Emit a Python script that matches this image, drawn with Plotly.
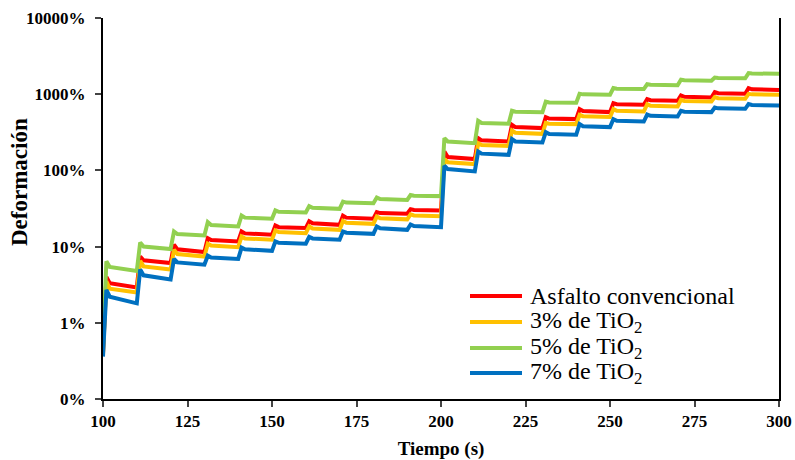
import plotly.graph_objects as go

# ---- data ----
inicio_ciclo = [100, 110, 120, 130, 140, 150, 160, 170, 180, 190,
                200, 210, 220, 230, 240, 250, 260, 270, 280, 290]
t_pico = [101, 111, 121, 131, 141, 151, 161, 171, 181, 191,
          201, 211, 221, 231, 241, 251, 261, 271, 281, 291]
t_rec = [102, 112, 122, 132, 142, 152, 162, 172, 182, 192,
         202, 212, 222, 232, 242, 252, 262, 272, 282, 292]
t_fin = [110, 120, 130, 140, 150, 160, 170, 180, 190, 200,
         210, 220, 230, 240, 250, 260, 270, 280, 290, 300]

series_names = ["Asfalto convencional", "3% de TiO<sub>2</sub>",
                "5% de TiO<sub>2</sub>", "7% de TiO<sub>2</sub>"]
series_colors = ["#FF0000", "#FFC000", "#92D050", "#0070C0"]

inicio_conv = 0.40
pico_conv = [4.0, 7.4, 10.6, 12.9, 15.8, 18.9, 21.5, 25.4, 28.4, 31.0,
             177, 265, 396, 500, 637, 764, 862, 962, 1066, 1203]
rec_conv = [3.3, 6.6, 9.2, 12.2, 14.9, 18.0, 20.2, 24.0, 27.5, 30.2,
            150, 248, 370, 480, 600, 740, 835, 925, 1030, 1160]
fin_conv = [2.9, 6.1, 8.5, 11.7, 14.3, 17.5, 19.3, 23.2, 27.0, 29.7,
            141, 240, 359, 471, 582, 726, 819, 905, 1012, 1137]

inicio_ti3 = 0.38
pico_ti3 = [3.5, 6.5, 9.1, 10.9, 13.6, 16.3, 18.4, 21.8, 24.8, 26.5,
            141, 228, 334, 420, 537, 637, 741, 845, 916, 1012]
rec_ti3 = [2.8, 5.5, 8.0, 10.3, 12.8, 15.5, 17.3, 20.6, 23.6, 25.6,
           128, 216, 312, 410, 515, 605, 705, 815, 885, 995]
fin_ti3 = [2.5, 5.0, 7.4, 9.8, 12.3, 15.0, 16.6, 19.9, 22.8, 25.0,
           121, 210, 302, 405, 501, 593, 690, 802, 871, 985]

inicio_ti5 = 0.50
pico_ti5 = [6.4, 11.3, 15.8, 21.0, 25.6, 29.8, 34.0, 39.0, 44.0, 47.5,
            265, 448, 606, 800, 1012, 1203, 1350, 1545, 1656, 1893]
rec_ti5 = [5.4, 10.0, 14.6, 19.2, 24.0, 28.6, 32.3, 37.8, 42.0, 46.6,
           240, 420, 590, 780, 995, 1180, 1330, 1520, 1635, 1870]
fin_ti5 = [4.8, 9.3, 14.0, 18.4, 23.2, 28.0, 31.3, 37.0, 41.0, 46.0,
           228, 409, 580, 770, 985, 1167, 1310, 1500, 1620, 1850]

inicio_ti7 = 0.36
pico_ti7 = [2.7, 5.0, 6.9, 7.6, 9.7, 11.7, 13.4, 15.8, 18.4, 19.5,
            115, 177, 258, 318, 405, 471, 540, 606, 669, 741]
rec_ti7 = [2.2, 4.2, 6.2, 7.2, 9.2, 11.2, 12.8, 15.2, 17.4, 18.6,
           104, 166, 240, 300, 380, 448, 520, 590, 652, 722]
fin_ti7 = [1.8, 3.7, 5.8, 6.9, 8.8, 10.9, 12.3, 14.7, 16.6, 18.0,
           97, 160, 232, 293, 370, 438, 510, 582, 643, 711]

x_ticks = [100, 125, 150, 175, 200, 225, 250, 275, 300]
y_ticks = [0.1, 1, 10, 100, 1000, 10000]
y_ticktext = ["0%", "1%", "10%", "100%", "1000%", "10000%"]

datos = [
    (inicio_conv, pico_conv, rec_conv, fin_conv),
    (inicio_ti3, pico_ti3, rec_ti3, fin_ti3),
    (inicio_ti5, pico_ti5, rec_ti5, fin_ti5),
    (inicio_ti7, pico_ti7, rec_ti7, fin_ti7),
]

FONT = "Liberation Serif"
W, H = 795, 460
ML, MR, MT, MB = 103, 16, 18, 61
PW, PH = W - ML - MR, H - MT - MB

fig = go.Figure()
for name, color, (ini, pico, rec, fin) in zip(series_names, series_colors, datos):
    xs, ys = [], []
    prev = ini
    for i, t0 in enumerate(inicio_ciclo):
        xs += [t0, t_pico[i], t_rec[i], t_fin[i]]
        ys += [prev, pico[i], rec[i], fin[i]]
        prev = fin[i]
    fig.add_trace(go.Scatter(x=xs, y=ys, mode="lines", name=name, showlegend=False,
                             line=dict(color=color, width=4)))

def px_x(X):
    return (X - ML) / PW
def px_y(Y):
    return (H - MB - Y) / PH

# ---- legend drawn as shapes + text (tight line spacing like the reference) ----
leg_x0, leg_x1, leg_tx = 470, 522, 528
leg_rows = [296, 322, 348, 373]
for name, color, ry in zip(series_names, series_colors, leg_rows):
    fig.add_shape(type="line", xref="paper", yref="paper",
                  x0=px_x(leg_x0), x1=px_x(leg_x1), y0=px_y(ry), y1=px_y(ry),
                  line=dict(color=color, width=4))
    fig.add_annotation(xref="paper", yref="paper", x=px_x(leg_tx), y=px_y(ry),
                       xanchor="left", yanchor="middle", text=name, showarrow=False,
                       font=dict(family=FONT, size=24, color="black"))

# ---- y axis title (placed like the reference, above the plot's middle) ----
fig.add_annotation(xref="paper", yref="paper", x=px_x(19), y=px_y(182),
                   xanchor="center", yanchor="middle", textangle=-90,
                   text="<b>Deformación</b>", showarrow=False,
                   font=dict(family=FONT, size=23, color="black"))

fig.update_layout(
    width=W, height=H,
    margin=dict(l=ML, r=MR, t=MT, b=MB),
    paper_bgcolor="white", plot_bgcolor="white",
    font=dict(family=FONT, color="black"),
    showlegend=False,
)
fig.update_xaxes(
    range=[100, 300], tickvals=x_ticks, ticks="outside", ticklen=6, tickwidth=1.5,
    showline=True, linecolor="black", linewidth=2, showgrid=False, zeroline=False,
    automargin=False,
    tickfont=dict(family=FONT, size=17, weight="bold"),
    title=dict(text="Tiempo (s)", font=dict(family=FONT, size=19, weight="bold"), standoff=14),
)
fig.update_yaxes(
    type="log", range=[-1, 4], tickvals=y_ticks, ticktext=y_ticktext,
    ticks="outside", ticklen=6, tickwidth=1.5, ticklabelstandoff=6,
    showline=True, linecolor="black", linewidth=2, mirror=True, showgrid=False, zeroline=False,
    automargin=False,
    tickfont=dict(family=FONT, size=17, weight="bold"),
)

fig.write_html("out.html", config={"displayModeBar": False},
               post_script="document.body.style.margin='0';document.body.style.overflow='hidden';")
